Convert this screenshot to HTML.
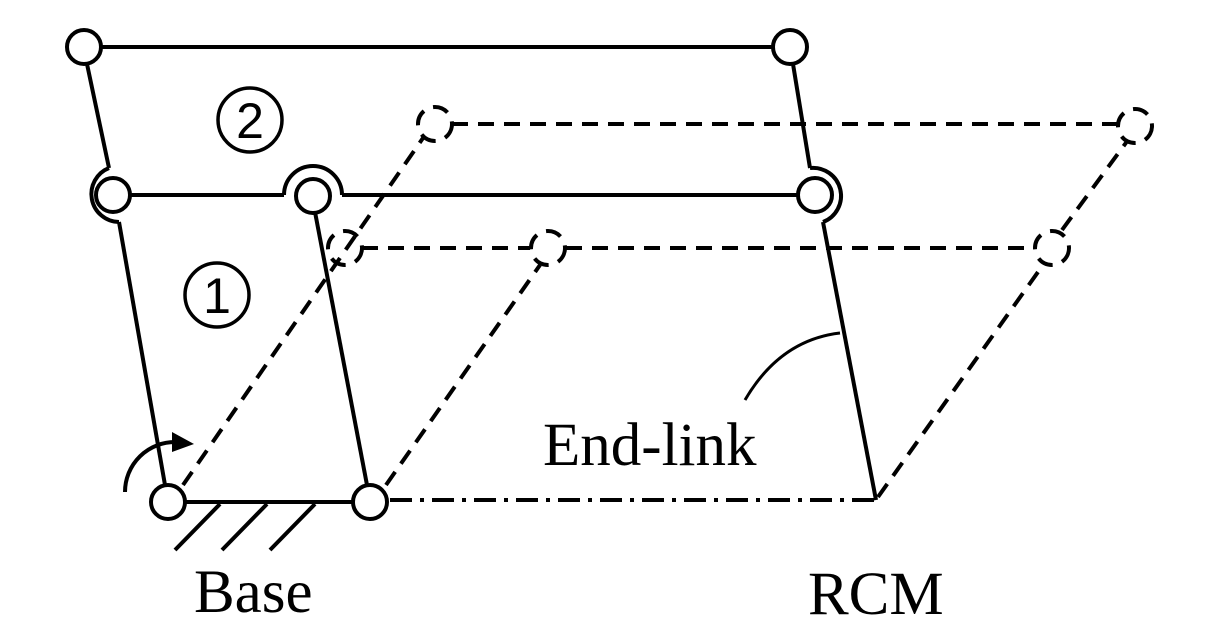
<!DOCTYPE html>
<html><head><style>html,body{margin:0;padding:0;background:#fff;width:1216px;height:628px;overflow:hidden}</style></head>
<body>
<svg width="1216" height="628" viewBox="0 0 1216 628" xmlns="http://www.w3.org/2000/svg">
<g stroke="#000" stroke-width="4" fill="none">
<g stroke-dasharray="16,10">
<line x1="452" y1="124" x2="1118" y2="124"/>
<line x1="362" y1="248" x2="530" y2="248"/>
<line x1="566" y1="248" x2="1034" y2="248"/>
<line x1="183" y1="485" x2="423" y2="138"/>
<line x1="386" y1="485" x2="540" y2="265"/>
<line x1="878" y1="497" x2="1043" y2="265"/>
<line x1="1062" y1="230" x2="1128" y2="140"/>
<circle cx="435" cy="124" r="17"/>
<circle cx="1135" cy="126" r="17"/>
<circle cx="345" cy="248" r="17"/>
<circle cx="548" cy="248" r="17"/>
<circle cx="1052" cy="248" r="17"/>
</g>
<line x1="390" y1="500" x2="876" y2="500" stroke-dasharray="22,8,4,8"/>
<line x1="100" y1="47" x2="772" y2="47"/>
<line x1="87" y1="64" x2="109" y2="168"/>
<line x1="119" y1="222" x2="165" y2="485"/>
<line x1="315" y1="212" x2="367" y2="485"/>
<line x1="793" y1="64" x2="810" y2="168"/>
<line x1="823" y1="222" x2="876" y2="500"/>
<line x1="130" y1="195" x2="284" y2="195"/>
<line x1="342" y1="195" x2="798" y2="195"/>
<line x1="185" y1="502" x2="353" y2="502"/>
<path d="M284,195 A29,29 0 0 1 342,195"/>
<path d="M109,168 A28,28 0 0 0 119,222"/>
<path d="M810,168 A28,28 0 0 1 823,222"/>
<circle cx="84" cy="47" r="17" fill="#fff"/>
<circle cx="790" cy="47" r="17" fill="#fff"/>
<circle cx="113" cy="195" r="17" fill="#fff"/>
<circle cx="313" cy="196" r="17" fill="#fff"/>
<circle cx="815" cy="195" r="17" fill="#fff"/>
<circle cx="168" cy="502" r="17" fill="#fff"/>
<circle cx="370" cy="502" r="17" fill="#fff"/>
<line x1="220" y1="504" x2="175" y2="550"/>
<line x1="267" y1="504" x2="222" y2="550"/>
<line x1="315" y1="504" x2="270" y2="550"/>
<path d="M125,492 A50,50 0 0 1 176,442"/>
<path d="M745,400 Q780,340 840,333" stroke-width="3"/>
<circle cx="250" cy="120" r="32" stroke-width="3.5"/>
<circle cx="217" cy="295" r="32" stroke-width="3.5"/>
</g>
<polygon points="172,432 194,444 172,452" fill="#000"/>
<g font-family="'Liberation Serif',serif" fill="#000">
<text x="250" y="138" font-size="50" text-anchor="middle" font-family="'Liberation Sans',sans-serif">2</text>
<text x="217" y="313" font-size="50" text-anchor="middle" font-family="'Liberation Sans',sans-serif">1</text>
<text x="543" y="465" font-size="61">End-link</text>
<text x="808" y="614" font-size="61">RCM</text>
<text x="194" y="612" font-size="61">Base</text>
</g>
</svg>
</body></html>
